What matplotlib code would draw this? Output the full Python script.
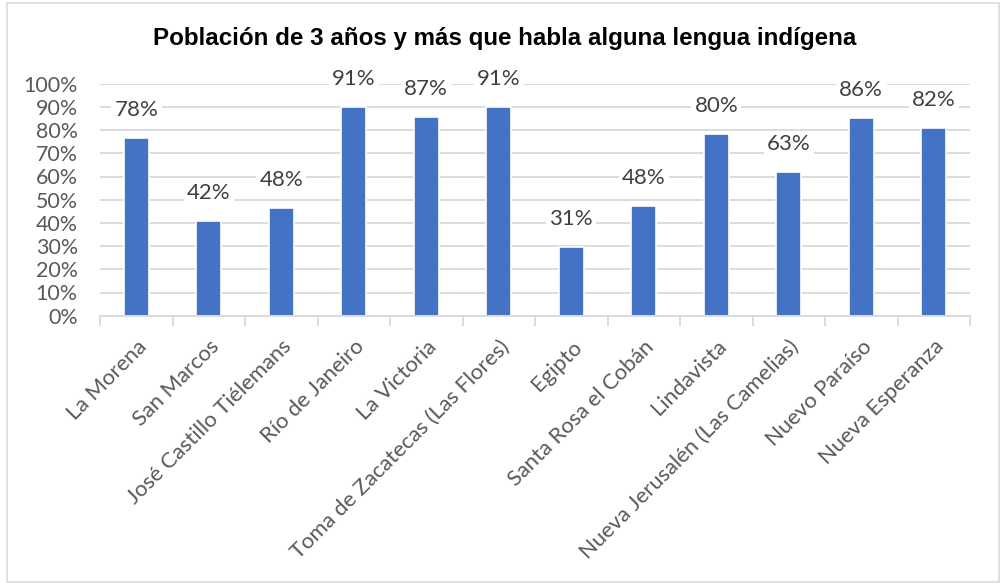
import matplotlib
matplotlib.use("Agg")
import matplotlib.pyplot as plt
from matplotlib.patches import Rectangle
import numpy as np

categories = ["La Morena", "San Marcos", "José Castillo Tiélemans", "Río de Janeiro",
              "La Victoria", "Toma de Zacatecas (Las Flores)", "Egipto",
              "Santa Rosa el Cobán", "Lindavista", "Nueva Jerusalén (Las Camelias)",
              "Nuevo Paraíso", "Nueva Esperanza"]
bar_values = [0.767, 0.408, 0.464, 0.901, 0.856, 0.898, 0.295, 0.472, 0.784, 0.618, 0.852, 0.808]
label_values = [78, 42, 48, 91, 87, 91, 31, 48, 80, 63, 86, 82]
yticks = [0, 0.1, 0.2, 0.3, 0.4, 0.5, 0.6, 0.7, 0.8, 0.9, 1.0]
title = "Población de 3 años y más que habla alguna lengua indígena"

W, H = 1001, 583
fig = plt.figure(figsize=(W / 100, H / 100), dpi=100)
fig.patch.set_facecolor("white")
fig.add_artist(Rectangle((7 / W, 1 / H), (W - 9) / W, (H - 4) / H, transform=fig.transFigure,
                         fill=False, edgecolor="#D9D9D9", linewidth=1.2))

ax_l, ax_r = 100 / W, 970 / W
ax_b, ax_t = 1 - 315.7 / H, 1 - 83.7 / H
ax = fig.add_axes([ax_l, ax_b, ax_r - ax_l, ax_t - ax_b])

x = np.arange(len(categories))
ax.bar(x, bar_values, width=0.35, color="#4472C4", edgecolor="white", linewidth=1.2, zorder=3)

for xi, v, lab in zip(x, bar_values, label_values):
    ax.annotate(f"{lab}%", (xi, v), xytext=(0, 13), textcoords="offset points",
                ha="center", va="bottom", fontsize=16, color="#404040", family="Lato",
                bbox=dict(boxstyle="square,pad=0.15", fc="white", ec="none"), zorder=4)

ax.set_ylim(0, 1.0)
ax.set_xlim(-0.5, len(categories) - 0.5)
ax.set_yticks(yticks)
ax.set_yticklabels([f"{int(round(t * 100))}%" for t in yticks])
ax.yaxis.grid(True, color="#D9D9D9", linewidth=1.3, zorder=0)
ax.set_axisbelow(True)
for s in ["left", "right", "top"]:
    ax.spines[s].set_visible(False)
ax.spines["bottom"].set_color("#D9D9D9")
ax.spines["bottom"].set_linewidth(1.3)
ax.spines["bottom"].set_zorder(5)
ax.tick_params(axis="y", length=0, pad=16, labelsize=15.4, labelcolor="#595959")
for lbl in ax.get_yticklabels():
    lbl.set_family("Lato")

ax.set_xticks(x)
ax.set_xticks(np.arange(-0.5, len(categories), 1), minor=True)
ax.tick_params(axis="x", which="major", length=0, pad=15)
ax.tick_params(axis="x", which="minor", length=7, width=1.3, color="#D9D9D9")
ax.set_xticklabels(categories, rotation=45, ha="right", rotation_mode="anchor",
                   fontsize=15.8, color="#595959", family="Lato")

fig.text(505 / W, 1 - 38 / H, title, ha="center", va="center", fontsize=17.4,
         fontweight="bold", family="Liberation Sans", color="black")

fig.savefig("out.png", dpi=100, facecolor="white")
